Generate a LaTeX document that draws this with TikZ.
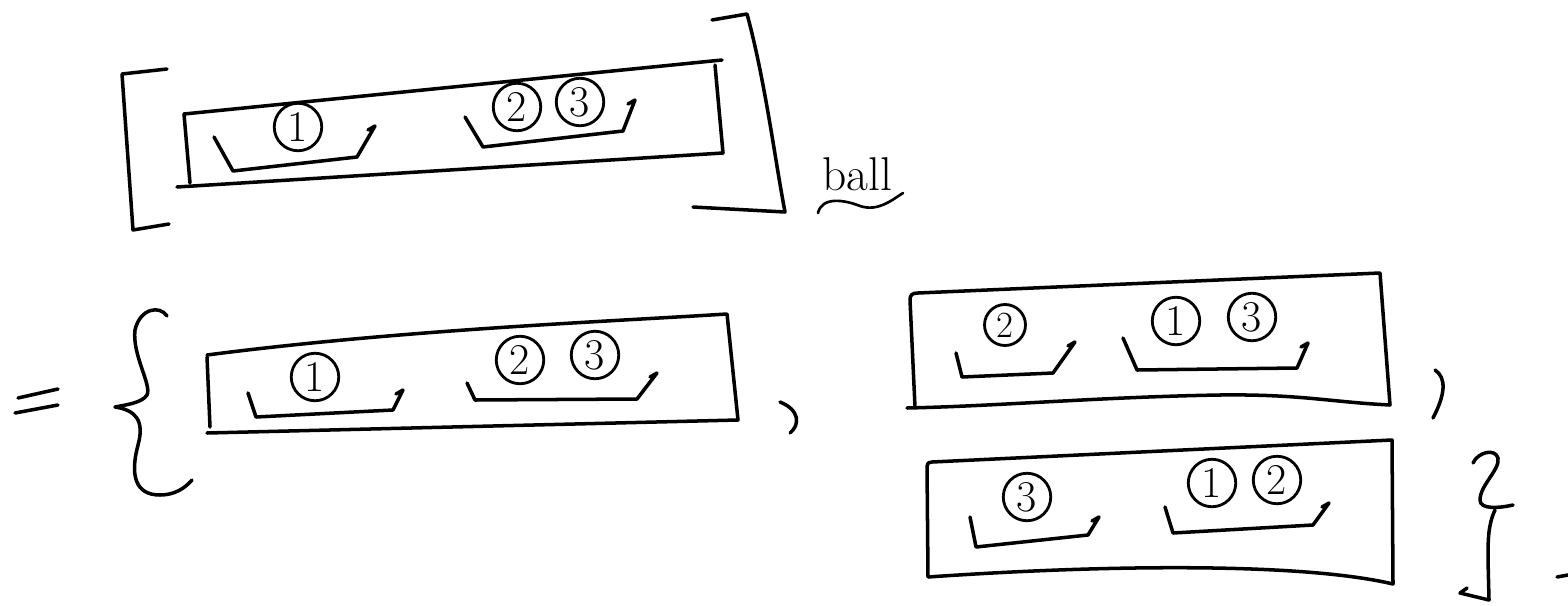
\documentclass[tikz,border=0pt]{standalone}
\usepackage{tikz}

\begin{document}
\begin{tikzpicture}[x=0.02cm,y=-0.02cm,
  pen/.style={line width=2pt,line cap=round,line join=round},
  ball/.style={draw,circle,line width=1.6pt,inner sep=0pt,minimum size=0.95cm,font=\fontsize{25}{28}\selectfont},
  every node/.style={font=\huge}]
\useasboundingbox (0,0) rectangle (1568,605);
% outer square brackets
\draw[pen] (167,69) -- (122,74) -- (133,230) -- (169,224);
\draw[pen] (712,20) -- (747,14) .. controls (765,80) and (775,160) .. (785,212) -- (693,207);
% top box
\draw[pen] (184,114) -- (722,60);
\draw[pen] (715,65) -- (723,153) -- (177,187);
\draw[pen] (184,114) -- (190,183);
\draw[pen] (214,137) -- (233,171) -- (357,157) -- (375,126) -- ++(-7,4);
\draw[pen] (465,117) -- (483,147) -- (623,131) -- (635,100) -- ++(-7,4);
% label under the bracket
\node[font=\fontsize{27}{30}\selectfont] (lbl) at (857,174) {ball};
\draw[pen,line width=1.5pt] (818,213) .. controls (822,196) and (845,200) .. (860,206) .. controls (878,212) and (892,200) .. (903,193);
% equals and opening brace
\draw[pen] (18,398) -- (58,389);
\draw[pen] (15,413) -- (58,405);
\draw[pen] (167,316) .. controls (160,305) and (140,308) .. (135,330) .. controls (132,355) and (152,385) .. (147,395)
  .. controls (142,403) and (125,405) .. (115,407) .. controls (135,410) and (145,420) .. (138,445)
  .. controls (130,475) and (135,495) .. (160,495) .. controls (175,495) and (185,488) .. (192,480);
% box a
\draw[pen] (207,355) .. controls (400,330) and (600,322) .. (727,314) -- (738,420) -- (207,433);
\draw[pen] (207,357) -- (210,427);
\draw[pen] (248,393) -- (256,417) -- (393,410) -- (403,390) -- ++(-7,4);
\draw[pen] (467,383) -- (475,400) -- (637,399) -- (657,373) -- ++(-7,4);
\draw[pen] (780,402) .. controls (800,410) and (800,425) .. (790,433);
% box b
\draw[pen] (915,407) -- (910,300) .. controls (910,295) and (912,293) .. (918,293) -- (1380,273) -- (1390,405)
  .. controls (1330,402) and (1300,394) .. (1220,395) .. controls (1100,397) and (1000,406) .. (907,408);
\draw[pen] (956,353) -- (962,377) -- (1053,373) -- (1075,342) -- ++(-7,4);
\draw[pen] (1123,338) -- (1137,370) -- (1297,368) -- (1308,343) -- ++(-7,4);
\draw[pen] (1435,370) .. controls (1447,378) and (1445,395) .. (1433,418);
% box c
\draw[pen] (928,577) -- (927,466) .. controls (927,463) and (929,462) .. (932,462) -- (1392,440) -- (1393,584)
  .. controls (1300,562) and (1100,565) .. (928,577);
\draw[pen] (970,517) -- (976,547) -- (1088,535) -- (1099,517) -- ++(-7,4);
\draw[pen] (1165,507) -- (1173,533) -- (1313,525) -- (1329,503) -- ++(-7,4);
% closing brace
\draw[pen] (1473,463) .. controls (1478,452) and (1495,448) .. (1498,458) .. controls (1500,470) and (1480,485) .. (1480,500)
  .. controls (1480,510) and (1500,508) .. (1513,505);
\draw[pen] (1495,510) .. controls (1488,525) and (1488,540) .. (1488,560) -- (1489,600) -- (1460,593) -- (1467,588);
\draw[pen] (1557,577) -- (1568,575);
% numbered balls
\foreach \n/\x/\y/\k in {t1/298/127/1, t2/517/107/2, t3/580/102/3,
    a1/315/377/1, a2/520/360/2, a3/595/355/3,
    b1/1176/321/1, b3/1252/317/3,
    c3/1027/497/3, c1/1212/483/1, c2/1277/480/2}
  \node[ball] (\n) at (\x,\y) {\k};
\node[ball,minimum size=0.82cm,font=\fontsize{21}{24}\selectfont] (b2) at (1005,325) {2};
\end{tikzpicture}
\end{document}
